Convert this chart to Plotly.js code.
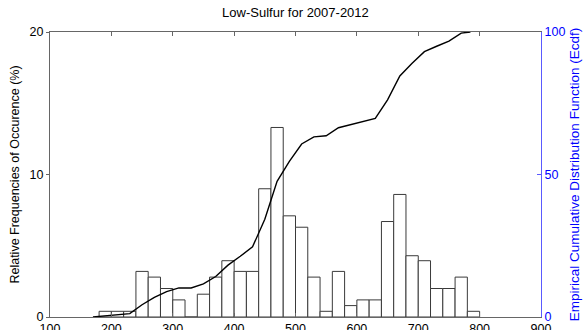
<!DOCTYPE html>
<html>
<head>
<meta charset="utf-8">
<script src="https://cdn.plot.ly/plotly-3.0.1.min.js"></script>
<style>
  html, body { margin: 0; padding: 0; background: #fff; }
  #chart { width: 588px; height: 330px; }
</style>
</head>
<body>
<div id="chart"></div>
<script>
// Histogram bins (centres, 20-unit wide bins from 180 to 800)
const binCenters = [190, 210, 230, 250, 270, 290, 310, 330, 350, 370, 390, 410, 430, 450, 470, 490,
                    510, 530, 550, 570, 590, 610, 630, 650, 670, 690, 710, 730, 750, 770, 790];
// Relative frequency of occurrence (%) for each bin
const relFreq = [0.4, 0.4, 0.4, 3.2, 2.8, 2.0, 1.2, 0, 1.6, 2.8, 3.95, 3.2, 3.2, 9.0, 13.3, 7.1,
                 6.3, 2.8, 0.4, 3.2, 0.8, 1.2, 1.2, 6.7, 8.6, 4.3, 3.95, 2.0, 2.0, 2.8, 0.4];

// Empirical cumulative distribution (%) sampled along the x range
const ecdfX = [170, 190, 210, 230, 250, 270, 290, 310, 330, 350, 370, 390, 410, 430, 450, 470,
               490, 510, 530, 550, 570, 590, 610, 630, 650, 670, 690, 710, 730, 750, 770, 785];
const ecdfY = [0, 0.4, 0.8, 1.2, 4.3, 6.9, 8.9, 10.2, 10.2, 11.6, 14.2, 18.2, 21.3, 24.6, 34.3, 47.6,
               54.6, 60.7, 63.2, 63.6, 66.4, 67.5, 68.6, 69.7, 76.2, 84.6, 89.0, 93.1, 95.0, 96.8, 99.6, 100];

const xTicks = [100, 200, 300, 400, 500, 600, 700, 800, 900];
const yTicks = [0, 10, 20];
const y2Ticks = [0, 50, 100];

const FONT = 'Liberation Sans, Arial, sans-serif';
const BLUE = '#0000ff';

const traces = [
  {
    type: 'bar',
    x: binCenters,
    y: relFreq,
    width: 20,
    marker: { color: '#ffffff', line: { color: '#3a3a3a', width: 1 } },
    hoverinfo: 'x+y',
    showlegend: false
  },
  {
    type: 'scatter',
    mode: 'lines',
    x: ecdfX,
    y: ecdfY,
    yaxis: 'y2',
    line: { color: '#000000', width: 1.4 },
    cliponaxis: false,
    showlegend: false
  }
];

const layout = {
  width: 588,
  height: 330,
  margin: { l: 50, r: 47, t: 32, b: 12.5, pad: 0 },
  paper_bgcolor: '#ffffff',
  plot_bgcolor: '#ffffff',
  font: { family: FONT, size: 12, color: '#000000' },
  bargap: 0,
  title: {
    text: 'Low-Sulfur for 2007-2012',
    font: { family: FONT, size: 13, color: '#000000' },
    x: 0.5025, xanchor: 'center',
    y: 0.962, yanchor: 'middle'
  },
  xaxis: {
    range: [100, 900],
    tickvals: xTicks,
    ticktext: xTicks.map(String),
    ticks: 'inside',
    ticklen: 4,
    tickcolor: '#666666',
    mirror: 'ticks',
    showline: true,
    linecolor: '#666666',
    linewidth: 1,
    showgrid: false,
    zeroline: false,
    tickfont: { family: FONT, size: 12.5, color: '#000000' }
  },
  yaxis: {
    range: [0, 20],
    tickvals: yTicks,
    ticks: 'outside',
    ticklen: 3,
    tickcolor: '#666666',
    showline: true,
    linecolor: '#666666',
    linewidth: 1,
    showgrid: false,
    zeroline: false,
    tickfont: { family: FONT, size: 12.5, color: '#000000' },
    title: {
      text: 'Relative Frequencies of Occurence (%)',
      font: { family: FONT, size: 12.5, color: '#000000' },
      standoff: 7
    }
  },
  yaxis2: {
    range: [0, 100],
    overlaying: 'y',
    side: 'right',
    tickvals: y2Ticks,
    ticks: 'inside',
    ticklen: 4,
    tickcolor: '#5a5aff',
    showline: true,
    linecolor: '#5a5aff',
    linewidth: 1,
    showgrid: false,
    zeroline: false,
    tickfont: { family: FONT, size: 12.5, color: BLUE },
    title: {
      text: 'Empirical Cumulative Distribution Function (Ecdf)',
      font: { family: FONT, size: 13.5, color: BLUE },
      standoff: 5
    }
  }
};

Plotly.newPlot('chart', traces, layout, { displayModeBar: false, staticPlot: true });
</script>
</body>
</html>
